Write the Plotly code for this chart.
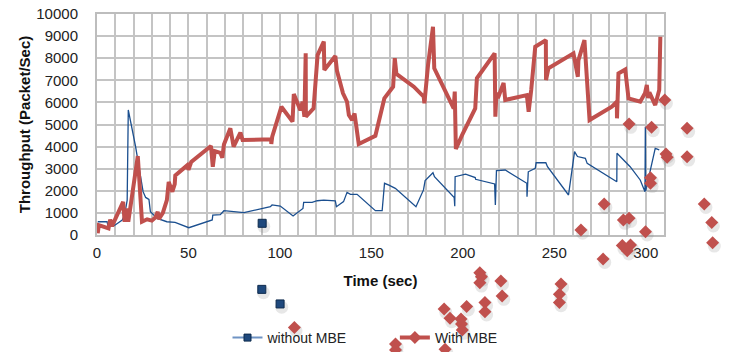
import plotly.graph_objects as go

# ---- data ----
red_t = [0.4, 1, 6.3, 7.2, 8.2, 11.8, 14.3, 15.1, 16.1, 17.1, 22.3, 24.6, 27.4, 30, 32, 33.2, 33.8, 36,
         38.2, 39.2, 41.2, 42.5, 42.8, 49.3, 50, 51.5, 62.3, 63.3, 64.4, 67.4, 68.5, 69.4, 72.9, 74.7,
         76.5, 78.4, 79.6, 95.2, 95.3, 95.8, 100.8, 106.9, 107.6, 111.2, 112.4, 113.4, 114.1, 114.2,
         118.4, 120.6, 124, 124.3, 130.3, 131.2, 134.5, 136.7, 137.7, 139.5, 140.8, 141.5, 143.1,
         152.2, 157.1, 161.9, 162.8, 163.7, 173.2, 178.6, 179, 181, 183.7, 184.4, 195, 195.6, 196.2,
         199.6, 206.8, 207.7, 217.4, 217.8, 218.4, 219.2, 222.3, 223.2, 235, 236, 237.4, 239.6,
         245.4, 245.5, 246.8, 260.5, 261, 262.9, 263.2, 266.5, 267.9, 269.3, 281.5, 284.2, 284.3,
         284.6, 285.1, 288.8, 290.6, 297, 299.6, 300.6, 301.3, 302, 305.2, 307.4, 308]
red_v = [80, 450, 300, 700, 400, 1040, 1500, 600, 1200, 600, 3570, 600, 710, 650, 800, 1050, 710, 1000,
         1580, 2400, 1960, 2300, 2690, 3150, 2950, 3300, 4030, 3090, 3800, 3720, 3500, 4100, 4830, 4000,
         4300, 4630, 4300, 4330, 4120, 4450, 5800, 5130, 6380, 5650, 6030, 5350, 8220, 5350,
         5730, 8140, 8750, 7470, 8100, 7430, 6410, 6030, 5430, 5200, 5500, 5050, 4120,
         4490, 6180, 6710, 8000, 7290, 6710, 6260, 5960, 7690, 9420, 7540, 5730, 6490, 3890,
         4520, 5730, 7090, 8220, 5350, 6450, 6200, 6880, 6110, 6330, 5580, 6560, 8520,
         8820, 7010, 7540, 8220, 7950, 7160, 7900, 8820, 7010, 5200, 5810, 6030, 5280,
         6300, 7310, 7490, 6180, 6030, 6410, 6790, 6200, 6450, 5880, 6560, 8970]

blue_t = [0.4, 5.5, 6, 9, 13.8, 15.1, 16.5, 17.1, 21.1, 25.2, 26.6, 28.4, 29.2, 32.9, 38.2, 42.7, 50.2,
          63, 63.3, 67.4, 69.4, 74.7, 80.3, 94.8, 95.7, 100.2, 107.2, 112.6, 113, 117.6, 120.4, 124,
          130.3, 130.9, 134.8, 136.7, 138.6, 142.2, 152.2, 155.9, 157.2, 159.6, 163.1, 174.4, 178.5,
          179.4, 183.7, 184.5, 195.3, 195.6, 195.8, 201.5, 206.8, 207, 217.4, 217.8, 218.4, 223.2,
          235, 235.1, 235.8, 239.6, 240.1, 245.4, 246.3, 257.8, 261.1, 262.7, 267, 268, 284.2, 284.3,
          291.5, 297, 299.6, 299.8, 300, 305.2, 307.4]
blue_v = [600, 600, 400, 400, 680, 900, 1580, 5660, 4000, 1960, 1700, 1610, 1050, 750, 600, 570, 330,
          680, 900, 920, 1100, 1050, 1010, 1280, 1360, 1310, 860, 1200, 1480, 1480, 1550, 1580,
          1550, 1280, 1510, 1930, 1840, 1840, 1100, 1100, 2340, 2260, 2110, 1280, 2040,
          2460, 2820, 2640, 1700, 1300, 2640, 2750, 2600, 2520, 2310, 1360, 2910, 2940,
          2340, 1730, 2860, 3020, 3270, 3270, 3090, 1810, 3770, 3550, 3470, 3240, 2410, 3700,
          3090, 2490, 1960, 4900, 2000, 3920, 3850]

# stray markers scattered around the original picture (in the chart's data units)
stray_red_t = [310.4, 290.9, 303.2, 322.6, 311.1, 311.7, 322.6, 302.6, 302.6, 277.3, 332, 287.8, 290.9,
               264.6, 299.9, 336.1, 336.6, 287.2, 291.7, 289.9, 276.7, 253.7, 252.8, 252.8, 209.3,
               210.2, 209.3, 220.8, 221.5, 212.1, 212.1, 202.1, 189.8, 193, 199, 199.3, 199.7, 107.9,
               163.2, 163.2, 190.3]
stray_red_v = [6110, 5020, 4870, 4830, 3670, 3520, 3540, 2590, 2340, 1400, 1400, 680, 760,
               230, 150, 560, -350, -480, -450, -710, -1090, -2220, -2680, -3050, -1710,
               -1890, -2160, -2080, -2760, -3050, -3470, -3240, -3350, -3770, -3800, -4030, -4300, -4180,
               -4930, -5200, -5170]
stray_blue_t = [90.3, 90.1, 100.1]
stray_blue_v = [530, -2460, -3120]

RED = "#C0504D"
BLUE = "#1B4F8F"
FONT = "Liberation Sans, Arial, sans-serif"
W, H = 730, 352
# plot-area box in pixels
PL, PR, PT, PB = 97, 664, 14, 235
XR = [0, 310]
YR = [0, 10000]

# overlay axes spanning the whole figure, same data units as the main axes
tpp = (XR[1] - XR[0]) / (PR - PL)
vpp = (YR[1] - YR[0]) / (PB - PT)
x2r = [XR[0] - PL * tpp, XR[1] + (W - PR) * tpp]
y2r = [YR[0] - (H - PB) * vpp, YR[1] + PT * vpp]

fig = go.Figure()

fig.add_trace(go.Scatter(x=blue_t, y=blue_v, mode="lines", showlegend=False,
                         line=dict(color=BLUE, width=1.3)))
fig.add_trace(go.Scatter(x=red_t, y=red_v, mode="lines", showlegend=False,
                         line=dict(color=RED, width=4)))

# shadows of stray markers
fig.add_trace(go.Scatter(x=[t + 0.9 for t in stray_red_t + stray_blue_t],
                         y=[v - 150 for v in stray_red_v + stray_blue_v],
                         xaxis="x2", yaxis="y2",
                         mode="markers", showlegend=False, hoverinfo="skip",
                         marker=dict(symbol="circle", size=13, color="rgba(120,120,120,0.18)",
                                     line=dict(width=0))))
fig.add_trace(go.Scatter(x=stray_red_t, y=stray_red_v, mode="markers", xaxis="x2", yaxis="y2",
                         showlegend=False,
                         marker=dict(symbol="diamond", size=10, color=RED, line=dict(width=0))))
fig.add_trace(go.Scatter(x=stray_blue_t, y=stray_blue_v, mode="markers", xaxis="x2", yaxis="y2",
                         showlegend=False,
                         marker=dict(symbol="square", size=8, color="#1F497D",
                                     line=dict(width=1, color="#0d2a4d"))))

# legend entries
fig.add_trace(go.Scatter(x=[None], y=[None], mode="lines+markers", name="without MBE           ",
                         line=dict(color="#6f93c4", width=2),
                         marker=dict(symbol="square", size=7, color="#1F497D",
                                     line=dict(width=1, color="#0d2a4d"))))
fig.add_trace(go.Scatter(x=[None], y=[None], mode="lines+markers", name="With MBE",
                         line=dict(color=RED, width=4),
                         marker=dict(symbol="diamond", size=10, color=RED)))

GRID = "#c4c4c4"
fig.update_layout(
    width=W, height=H,
    margin=dict(l=0, r=0, t=0, b=0, autoexpand=False),
    paper_bgcolor="white", plot_bgcolor="rgba(0,0,0,0)",
    font=dict(family=FONT, size=15, color="#222"),
    showlegend=True,
    legend=dict(orientation="h", x=365 / W, y=1 - 338 / H, xanchor="center", yanchor="middle",
                font=dict(family=FONT, size=14, color="#222"), bgcolor="rgba(0,0,0,0)",
                tracegroupgap=0),
    xaxis=dict(domain=[PL / W, PR / W], range=XR, tick0=0, dtick=50, showgrid=True,
               gridcolor=GRID, gridwidth=1.5,
               minor=dict(dtick=10, showgrid=True, gridcolor=GRID, gridwidth=1.5),
               showline=True, linecolor="#bdbdbd", linewidth=2, mirror=True,
               zeroline=False, ticks="", ticklabelstandoff=3, automargin=False,
               tickfont=dict(family=FONT, size=15, color="#222"),
               title=dict(text="<b>Time (sec)</b>", font=dict(family=FONT, size=15, color="#111"),
                          standoff=15)),
    yaxis=dict(domain=[1 - PB / H, 1 - PT / H], range=YR, tick0=0, dtick=1000, tickformat="d",
               showgrid=True, gridcolor=GRID, gridwidth=1.5,
               showline=True, linecolor="#bdbdbd", linewidth=2, mirror=True,
               zeroline=False, ticks="", ticklabelstandoff=14, automargin=False,
               tickfont=dict(family=FONT, size=15, color="#222"),
               title=dict(text="<b>Throughput (Packet/Sec)</b>",
                          font=dict(family=FONT, size=15, color="#111"), standoff=2)),
    xaxis2=dict(domain=[0, 1], range=x2r, visible=False, anchor="y2", fixedrange=True),
    yaxis2=dict(domain=[0, 1], range=y2r, visible=False, anchor="x2", fixedrange=True),
)

fig.write_html("out.html")
